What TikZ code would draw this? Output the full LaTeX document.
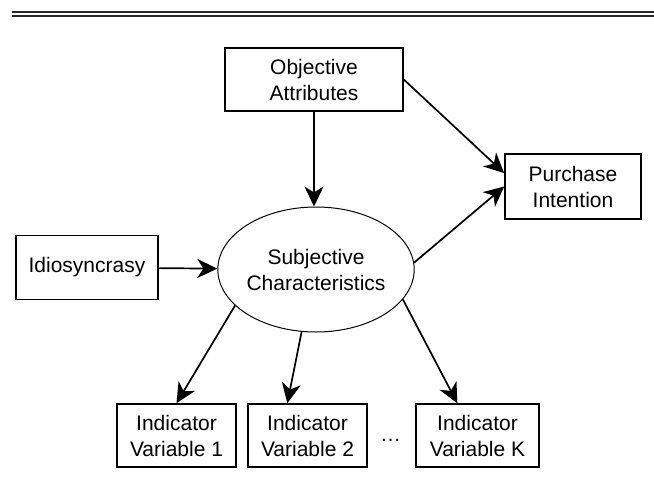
\documentclass[tikz,border=0pt]{standalone}
\usepackage{fontspec}
\setmainfont{Liberation Sans}
\usetikzlibrary{arrows.meta,shapes.geometric}
\tikzset{
  lbl/.style={font=\fontsize{21}{26}\selectfont},
  box/.style={lbl,draw,line width=1.6pt,align=center,inner sep=0pt,minimum height=63pt},
  oval/.style={lbl,draw,ellipse,line width=1pt,align=center,inner sep=0pt,
    minimum width=190pt,minimum height=125pt},
  arr/.style={-{Stealth[length=20pt,width=19pt,inset=6pt]},line width=1.7pt}
}

\begin{document}
\begin{tikzpicture}[x=1pt,y=-1pt]
\useasboundingbox (0,0) rectangle (654,499);
%\draw [help lines,step=50] (0,0) grid (654,499);
% rule at the top
\draw [line width=1.4pt,black!85] (12,11.8)--(654,11.8);
\draw [line width=1.6pt,black!85] (12,15.7)--(654,15.7);
\node [box,minimum width=178pt] (obj) at (314,79.5) {Objective\\Attributes};
\node [box,minimum width=136pt,minimum height=65pt] (pur) at (573,186.5) {Purchase\\Intention};
\node [box,minimum width=142pt,minimum height=64pt] (idio) at (87,267.5) {Idiosyncrasy};
\node [oval] (subj) at (316,269.5) {Subjective\\Characteristics};
\node [box,minimum width=119pt] (ind1) at (176.5,435.5) {Indicator\\Variable 1};
\node [box,minimum width=119pt] (ind2) at (307.5,435.5) {Indicator\\Variable 2};
\node [box,minimum width=123pt] (indk) at (477.5,435.5) {Indicator\\Variable K};
\node [lbl,anchor=base] (dots) at (390.5,441) {\dots};
\draw [arr] (obj.south) -- (subj.north -| obj.south);
\draw [arr] (obj.east) -- (pur.169);
\draw [arr] (subj.4) -- (pur.west);
\draw [arr] (idio) -- (subj);
\draw [arr] (subj.204) -- (ind1.north);
\draw [arr] (subj.257) -- (ind2.122);
\draw [arr] (subj.341) -- (indk.122);
\end{tikzpicture}
\end{document}
